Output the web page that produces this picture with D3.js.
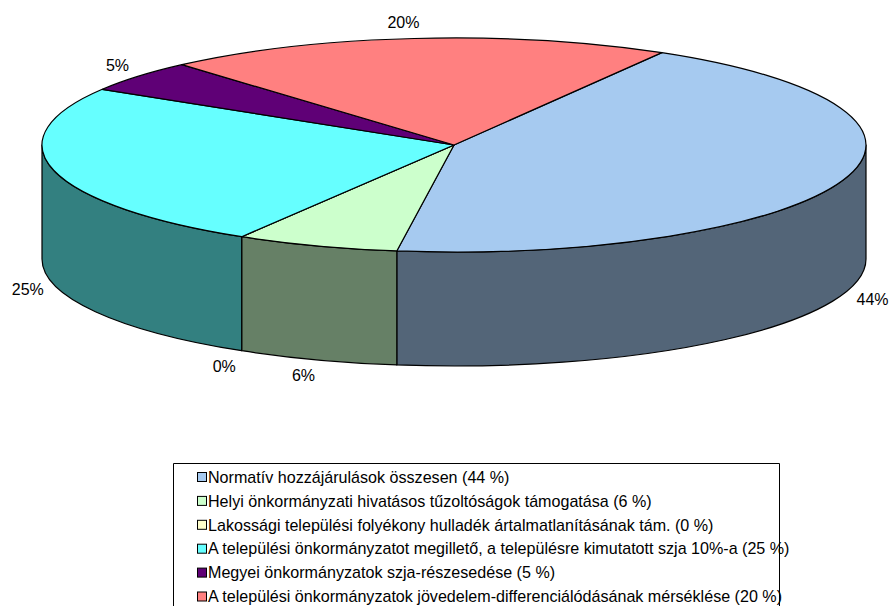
<!DOCTYPE html>
<html>
<head>
<meta charset="utf-8">
<script src="https://d3js.org/d3.v7.min.js"></script>
<style>
  html, body { margin: 0; padding: 0; background: #fff; overflow: hidden; }
  text { font-family: "Liberation Sans", Arial, sans-serif; fill: #000; }
</style>
</head>
<body>
<div id="chart"></div>
<script>
const categories = [
    "Normatív hozzájárulások összesen (44 %)",
    "Helyi önkormányzati hivatásos tűzoltóságok támogatása (6 %)",
    "Lakossági települési folyékony hulladék ártalmatlanításának tám. (0 %)",
    "A települési önkormányzatot megillető, a településre kimutatott szja 10%-a (25 %)",
    "Megyei önkormányzatok szja-részesedése (5 %)",
    "A települési önkormányzatok jövedelem-differenciálódásának mérséklése (20 %)"
]
const values = [43.8, 6.4, 0, 25.1, 4.8, 19.9]
const colors = ["#A6CAF0", "#CCFFCC", "#FFFFCC", "#66FFFF", "#5F0076", "#FF8080"]

const width = 889
const height = 606
const depth = 114
const startDeg = 30.3

const svg = d3.select("#chart")
    .append("svg")
    .attr("width", width)
    .attr("height", height)
    .attr("viewBox", [0, 0, width, height])

// unit ellipse -> pixels, the top face of the pie
const x = d3.scaleLinear().domain([-1, 1]).range([42, 866])
const y = d3.scaleLinear().domain([-1, 1]).range([38, 252])
const rx = (x(1) - x(-1)) / 2
const ry = (y(1) - y(-1)) / 2

const px = a => x(Math.sin(a))
const py = a => y(-Math.cos(a))

const start = startDeg * Math.PI / 180
const pie = d3.pie().sort(null).startAngle(start).endAngle(start + 2 * Math.PI)
const slices = pie(values).map((d, i) => ({...d, i}))

const half = c => {
    const k = d3.rgb(c)
    return d3.rgb(k.r * 0.5, k.g * 0.5, k.b * 0.5).formatHex()
}

// side wall is only seen on the front half
const walls = slices
    .map(d => ({
        i: d.i,
        a0: Math.max(d.startAngle, Math.PI / 2),
        a1: Math.min(d.endAngle, 3 * Math.PI / 2)
    }))
    .filter(d => d.a1 > d.a0)

svg.append("g")
    .selectAll("path")
    .data(walls)
    .join("path")
    .attr("fill", d => half(colors[d.i]))
    .attr("stroke", "#000")
    .attr("stroke-width", 1.2)
    .attr("stroke-linejoin", "round")
    .attr("d", d => `M${px(d.a0)},${py(d.a0)}
                     A${rx},${ry} 0 0 1 ${px(d.a1)},${py(d.a1)}
                     v${depth}
                     A${rx},${ry} 0 0 0 ${px(d.a0)},${py(d.a0) + depth}
                     Z`)

const arc = d3.arc().innerRadius(0).outerRadius(rx)

svg.append("g")
    .attr("transform", `translate(${x(0)},${y(0)}) scale(1,${ry / rx})`)
    .selectAll("path")
    .data(slices)
    .join("path")
    .attr("fill", d => colors[d.i])
    .attr("stroke", "#000")
    .attr("stroke-width", 1.2)
    .attr("stroke-linejoin", "round")
    .attr("vector-effect", "non-scaling-stroke")
    .attr("d", arc)

// percent labels sit just outside the rim, nudged where the original sits off the rule
const labelGapX = 30
const labelGapY = 16
const labelNudge = [[1, 0], [-3, 0], [-2, 2], [3, 1], [2, -1], [-8, 0]]
const mid = d => (d.startAngle + d.endAngle) / 2
const isFront = a => Math.cos(a) < 0

svg.append("g")
    .attr("font-size", 16)
    .attr("text-anchor", "middle")
    .selectAll("text")
    .data(slices)
    .join("text")
    .attr("x", d => px(mid(d)) + labelGapX * Math.sin(mid(d)) + labelNudge[d.i][0])
    .attr("y", d => py(mid(d)) - labelGapY * Math.cos(mid(d)) + (isFront(mid(d)) ? depth : 0) + labelNudge[d.i][1])
    .attr("dy", "0.36em")
    .text(d => `${Math.round(d.data)}%`)

// legend, the page cuts off its lower edge
const legendX = 173.5
const legendY = 463.5
const legendW = 606
const legendRow = d3.scaleLinear().domain([0, 5]).range([477, 596.5])

const legend = svg.append("g")
    .selectAll("g")
    .data(categories)
    .join("g")
    .attr("transform", (d, i) => `translate(197,${legendRow(i)})`)

legend.append("rect")
    .attr("x", 0.5)
    .attr("y", -4.5)
    .attr("width", 9)
    .attr("height", 9)
    .attr("fill", (d, i) => colors[i])
    .attr("stroke", "#000")
    .attr("stroke-width", 1)

legend.append("text")
    .attr("x", 11)
    .attr("dy", "0.36em")
    .attr("font-size", 16.1)
    .text(d => d)

svg.append("path")
    .attr("fill", "none")
    .attr("stroke", "#000")
    .attr("stroke-width", 1)
    .attr("d", `M${legendX},${height} V${legendY} H${legendX + legendW} V${height}`)
</script>
</body>
</html>
